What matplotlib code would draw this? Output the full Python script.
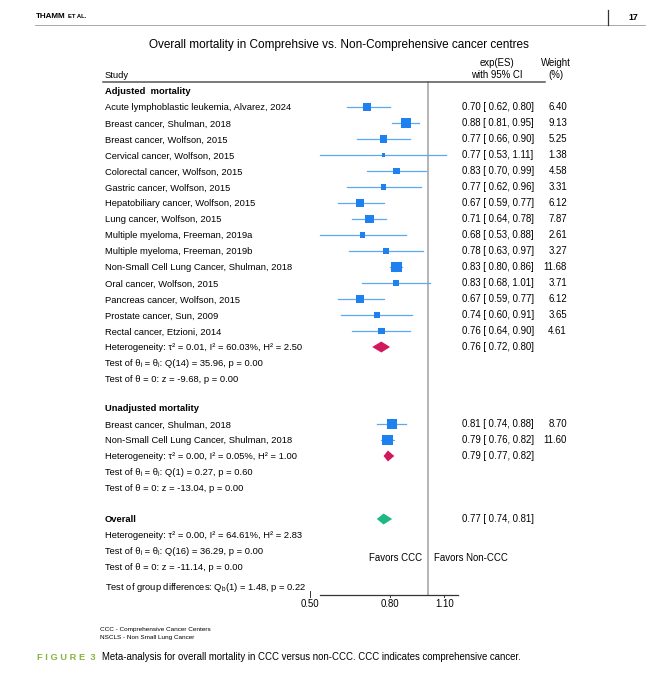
import numpy as np
import matplotlib.pyplot as plt
from matplotlib import transforms
from matplotlib.patches import Polygon

plt.rcParams['font.family'] = ['Liberation Sans', 'DejaVu Sans']
plt.rcParams['mathtext.fontset'] = 'custom'
plt.rcParams['mathtext.rm'] = 'Liberation Sans'
plt.rcParams['mathtext.it'] = 'Liberation Sans'
plt.rcParams['mathtext.bf'] = 'Liberation Sans:bold'

# Adjusted mortality studies
adj_studies = ['Acute lymphoblastic leukemia, Alvarez, 2024',
               'Breast cancer, Shulman, 2018',
               'Breast cancer, Wolfson, 2015',
               'Cervical cancer, Wolfson, 2015',
               'Colorectal cancer, Wolfson, 2015',
               'Gastric cancer, Wolfson, 2015',
               'Hepatobiliary cancer, Wolfson, 2015',
               'Lung cancer, Wolfson, 2015',
               'Multiple myeloma, Freeman, 2019a',
               'Multiple myeloma, Freeman, 2019b',
               'Non-Small Cell Lung Cancer, Shulman, 2018',
               'Oral cancer, Wolfson, 2015',
               'Pancreas cancer, Wolfson, 2015',
               'Prostate cancer, Sun, 2009',
               'Rectal cancer, Etzioni, 2014']
adj_es = [0.70, 0.88, 0.77, 0.77, 0.83, 0.77, 0.67, 0.71, 0.68, 0.78, 0.83, 0.83, 0.67, 0.74, 0.76]
adj_lo = [0.62, 0.81, 0.66, 0.53, 0.70, 0.62, 0.59, 0.64, 0.53, 0.63, 0.80, 0.68, 0.59, 0.60, 0.64]
adj_hi = [0.80, 0.95, 0.90, 1.11, 0.99, 0.96, 0.77, 0.78, 0.88, 0.97, 0.86, 1.01, 0.77, 0.91, 0.90]
adj_w = [6.40, 9.13, 5.25, 1.38, 4.58, 3.31, 6.12, 7.87, 2.61, 3.27, 11.68, 3.71, 6.12, 3.65, 4.61]
adj_pool = (0.76, 0.72, 0.80)
adj_stats = ['Heterogeneity: τ² = 0.01, I² = 60.03%, H² = 2.50',
             'Test of θᵢ = θⱼ: Q(14) = 35.96, p = 0.00',
             'Test of θ = 0: z = -9.68, p = 0.00']

# Unadjusted mortality studies
unadj_studies = ['Breast cancer, Shulman, 2018',
                 'Non-Small Cell Lung Cancer, Shulman, 2018']
unadj_es = [0.81, 0.79]
unadj_lo = [0.74, 0.76]
unadj_hi = [0.88, 0.82]
unadj_w = [8.70, 11.60]
unadj_pool = (0.79, 0.77, 0.82)
unadj_stats = ['Heterogeneity: τ² = 0.00, I² = 0.05%, H² = 1.00',
               'Test of θᵢ = θⱼ: Q(1) = 0.27, p = 0.60',
               'Test of θ = 0: z = -13.04, p = 0.00']

overall_pool = (0.77, 0.74, 0.81)
overall_stats = ['Heterogeneity: τ² = 0.00, I² = 64.61%, H² = 2.83',
                 'Test of θᵢ = θⱼ: Q(16) = 36.29, p = 0.00',
                 'Test of θ = 0: z = -11.14, p = 0.00']
group_test = r'Test of group differences: $\mathregular{Q_b}$(1) = 1.48, p = 0.22'

xticks = [0.50, 0.80, 1.10]

W, H = 659, 680
fig = plt.figure(figsize=(W / 100, H / 100), dpi=100)
# forest axes: x in log scale, y in pixel rows from top
ax = fig.add_axes([300 / W, 0, 160 / W, 1])
ax.set_xscale('log')
ax.set_xlim(np.exp((300 - 428) / 170), np.exp((460 - 428) / 170))
ax.set_ylim(H, 0)
ax.axis('off')
tr = transforms.blended_transform_factory(fig.transFigure, ax.transData)

fs = 6.75      # left labels
fs_r = 6.9     # right columns
off = 3.4      # baseline offset below row centre (pixels)
txt_x, ci_x, w_x = 105 / W, 462 / W, 567 / W
blue, ci_blue = '#1F80F0', '#5EA8F2'


def label(x, y, s, **kw):
    kw.setdefault('fontsize', fs)
    ax.text(x, y + off, s, transform=tr, va='baseline', **kw)


def fmt_ci(p):
    return f'{p[0]:.2f} [ {p[1]:.2f}, {p[2]:.2f}]'


def draw_diamond(p, y, color):
    d = Polygon([(p[1], y), (p[0], y - 5.5), (p[2], y), (p[0], y + 5.5)],
                closed=True, facecolor=color, edgecolor='none', zorder=3)
    ax.add_patch(d)


def draw_section(y, title, studies, es, lo, hi, w, pool, stats, color):
    label(txt_x, y, title, fontweight='bold')
    y += 16
    for s, e, l, h, wt in zip(studies, es, lo, hi, w):
        label(txt_x, y, s)
        ax.plot([l, h], [y, y], color=ci_blue, lw=0.9, zorder=2)
        ax.scatter([e], [y], marker='s', s=5.3 * wt, color=blue, edgecolors='none', zorder=3)
        label(ci_x, y, fmt_ci((e, l, h)), fontsize=fs_r)
        label(w_x, y, f'{wt:.2f}', fontsize=fs_r, ha='right')
        y += 16
    draw_diamond(pool, y, color)
    label(ci_x, y, fmt_ci(pool), fontsize=fs_r)
    for st in stats:
        label(txt_x, y, st)
        y += 16
    return y - 16


# page header
renderer = fig.canvas.get_renderer()
t_head = fig.text(36 / W, 1 - 17 / H, 'THAMM', fontsize=5.8, fontweight='bold', va='center')
x_end = t_head.get_window_extent(renderer).x1
fig.text((x_end + 2) / W, 1 - 17 / H, 'ET AL.', fontsize=4.2, fontweight='bold', va='center')
fig.text(638 / W, 1 - 17 / H, '17', fontsize=6.4, fontweight='bold', va='center', ha='right')
fig.add_artist(plt.Line2D([35 / W, 645 / W], [1 - 25 / H, 1 - 25 / H], color='#9A9A9A', lw=0.6))
fig.add_artist(plt.Line2D([608 / W, 608 / W], [1 - 10 / H, 1 - 25 / H], color='#333333', lw=0.9))

fig.text(339 / W, 1 - 45 / H, 'Overall mortality in Comprehsive vs. Non-Comprehensive cancer centres',
         fontsize=8.5, ha='center', va='center')
fig.text(txt_x, 1 - 75 / H, 'Study', fontsize=fs, va='center')
fig.text(497 / W, 1 - 63 / H, 'exp(ES)', fontsize=fs_r, va='center', ha='center')
fig.text(497 / W, 1 - 75 / H, 'with 95% CI', fontsize=fs_r, va='center', ha='center')
fig.text(556 / W, 1 - 63 / H, 'Weight', fontsize=fs_r, va='center', ha='center')
fig.text(556 / W, 1 - 75 / H, '(%)', fontsize=fs_r, va='center', ha='center')
fig.add_artist(plt.Line2D([103 / W, 545 / W], [1 - 82 / H, 1 - 82 / H], color='#555555', lw=1.1))

y = draw_section(91, 'Adjusted  mortality', adj_studies, adj_es, adj_lo, adj_hi, adj_w,
                 adj_pool, adj_stats, '#D11A5C')
y = draw_section(y + 29, 'Unadjusted mortality', unadj_studies, unadj_es, unadj_lo, unadj_hi,
                 unadj_w, unadj_pool, unadj_stats, '#D11A5C')
y += 31
label(txt_x, y, 'Overall', fontweight='bold')
draw_diamond(overall_pool, y, '#1DB884')
label(ci_x, y, fmt_ci(overall_pool), fontsize=fs_r)
for st in overall_stats:
    y += 16
    label(txt_x, y, st)
ax.text(0.965, y - 9 + off, 'Favors CCC', fontsize=fs_r, va='baseline', ha='right')
ax.text(1.035, y - 9 + off, 'Favors Non-CCC', fontsize=fs_r, va='baseline', ha='left')
y += 20
label(txt_x, y, group_test)

# no-effect line and x axis
y_axis = y + 8
ax.plot([1, 1], [82, y_axis], color='#B4B4B4', lw=1.4, zorder=1)
ax.plot([min(adj_lo), 1.19], [y_axis, y_axis], color='#333333', lw=0.9)
for t in xticks:
    ax.plot([t, t], [y_axis - 4 if t == xticks[0] else y_axis, y_axis + 1.5], color='#333333', lw=0.7)
    ax.text(t, y_axis + 12, f'{t:.2f}', fontsize=fs_r, ha='center', va='baseline')

# footnotes and caption
fig.text(100 / W, 1 - 630 / H, 'CCC - Comprehensive Cancer Centers', fontsize=4.6, va='center')
fig.text(100 / W, 1 - 638 / H, 'NSCLS - Non Small Lung Cancer', fontsize=4.6, va='center')
fig.text(37 / W, 1 - 657 / H, 'F I G U R E  3', fontsize=6.7, fontweight='bold', color='#86B43C',
         va='center')
fig.text(102 / W, 1 - 657 / H,
         'Meta-analysis for overall mortality in CCC versus non-CCC. CCC indicates comprehensive cancer.',
         fontsize=6.9, va='center')

fig.savefig('out.png', dpi=100, facecolor='white')
